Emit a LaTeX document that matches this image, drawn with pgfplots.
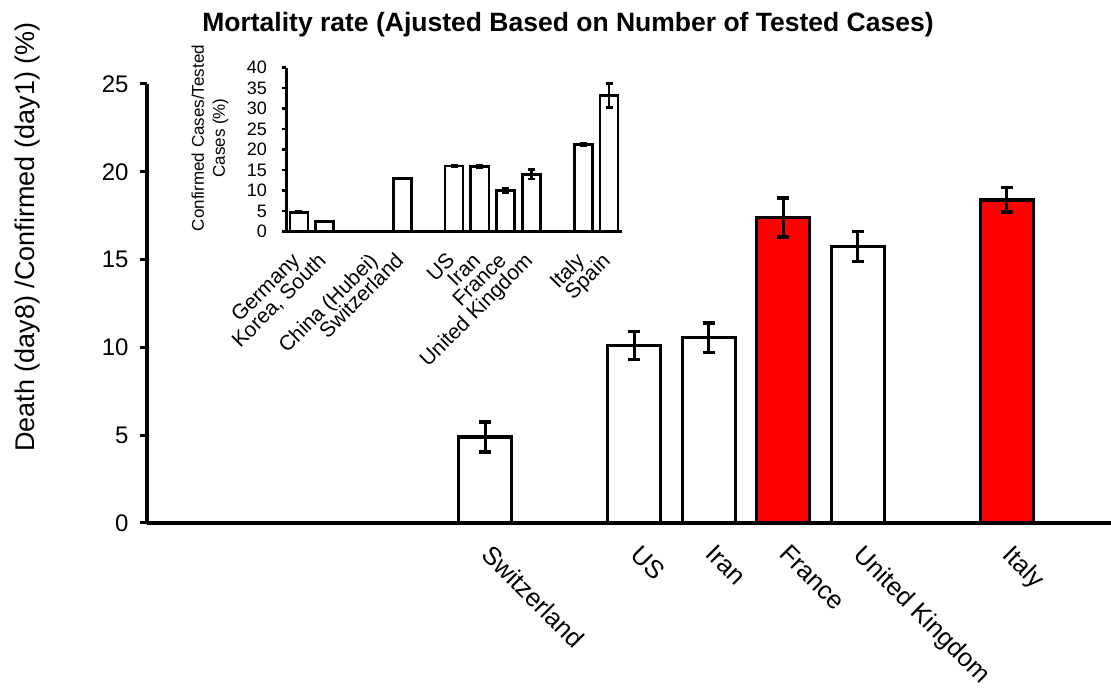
\documentclass[border=0pt]{standalone}
\usepackage{pgfplots}
\pgfplotsset{compat=1.18}
\usepackage{fontspec}
\setmainfont{Liberation Sans}

% main chart: slot index (bar at i+0.5), value, error
\pgfplotstableread{
x y e
4.5 4.9 0.85
6.5 10.1 0.8
7.5 10.55 0.85
9.5 15.75 0.85
}\mainwhite
\pgfplotstableread{
x y e
8.5 17.4 1.1
11.5 18.4 0.7
}\mainred
% inset: confirmed/tested
\pgfplotstableread{
x y e
0.5 4.7 0.2
1.5 2.5 0.1
4.5 13.0 0.1
6.5 16.0 0.2
7.5 15.9 0.2
8.5 10.0 0.6
9.5 14.0 1.2
11.5 21.2 0.3
12.5 33.2 2.9
}\inset

\pgfplotsset{
  barsty/.style={ybar, bar shift=0pt, draw=black},
  errsty/.style={error bars/.cd, y dir=both, y explicit}
}

\begin{document}
\begin{tikzpicture}[x=1pt,y=1pt]
\useasboundingbox (0,0) rectangle (1111,692);

\begin{axis}[
  at={(147pt,169pt)}, anchor=south west,
  scale only axis, width=964pt, height=439pt,
  xmin=-0.04, xmax=12.9, ymin=0, ymax=25,
  axis lines=left,
  axis line style={line width=3.5pt, -},
  clip=false,
  ytick={0,5,...,25},
  tick align=outside,
  major tick length=7pt,
  y tick style={line width=3pt, black},
  x tick style={draw=none},
  xtick={4.5,6.5,7.5,8.5,9.5,11.5},
  xticklabels={Switzerland,US,Iran,France,United Kingdom,Italy},
  xticklabel style={rotate=-45, anchor=north west, inner sep=1pt,
    font=\fontsize{25.5}{28}\selectfont, xshift=14pt, yshift=-2.7pt},
  yticklabel style={font=\fontsize{24}{28}\selectfont, xshift=-8pt},
  /pgf/number format/assume math mode=true,
  bar width=0.71,
]
\addplot[barsty, fill=white, line width=3.3pt,
  errsty, error bar style={line width=3pt, black},
  error mark options={rotate=90, mark size=6pt, line width=3.5pt, black}]
  table[x=x, y=y, y error=e] {\mainwhite};
\addplot[barsty, fill=red, line width=3.3pt,
  errsty, error bar style={line width=3pt, black},
  error mark options={rotate=90, mark size=6pt, line width=3.5pt, black}]
  table[x=x, y=y, y error=e] {\mainred};
\end{axis}

\begin{axis}[
  at={(286pt,460.3pt)}, anchor=south west,
  scale only axis, width=336pt, height=164pt,
  xmin=0, xmax=13, ymin=0, ymax=40,
  axis lines=left,
  axis line style={line width=3pt, -},
  clip=false,
  ytick={0,5,...,40},
  tick align=outside,
  major tick length=4pt,
  y tick style={line width=2.5pt, black},
  x tick style={draw=none},
  xtick={0.5,1.5,3.5,4.5,6.5,7.5,8.5,9.5,11.5,12.5},
  xticklabels={Germany,{Korea, South},China (Hubei),Switzerland,US,Iran,France,United Kingdom,Italy,Spain},
  xticklabel style={rotate=45, anchor=north east, inner sep=1pt,
    font=\fontsize{21}{24}\selectfont, xshift=-16pt, yshift=-4pt},
  yticklabel style={font=\fontsize{18}{20}\selectfont, inner sep=1pt, xshift=-14pt},
  /pgf/number format/assume math mode=true,
  bar width=0.7,
]
\addplot[barsty, fill=white, line width=2.7pt,
  errsty, error bar style={line width=2.2pt, black},
  error mark options={rotate=90, mark size=3.5pt, line width=2.5pt, black}]
  table[x=x, y=y, y error=e] {\inset};
\end{axis}

\node[font=\bfseries\fontsize{26.5}{30}\selectfont] at (568,667) {Mortality rate (Ajusted Based on Number of Tested Cases)};
\node[rotate=90, font=\fontsize{27}{30}\selectfont] at (28,455) {Death (day8) /Confirmed (day1) (\%)};
\node[rotate=90, align=center, font=\fontsize{17}{21}\selectfont] at (210,554) {Confirmed Cases/Tested\\Cases (\%)};
\end{tikzpicture}
\end{document}
